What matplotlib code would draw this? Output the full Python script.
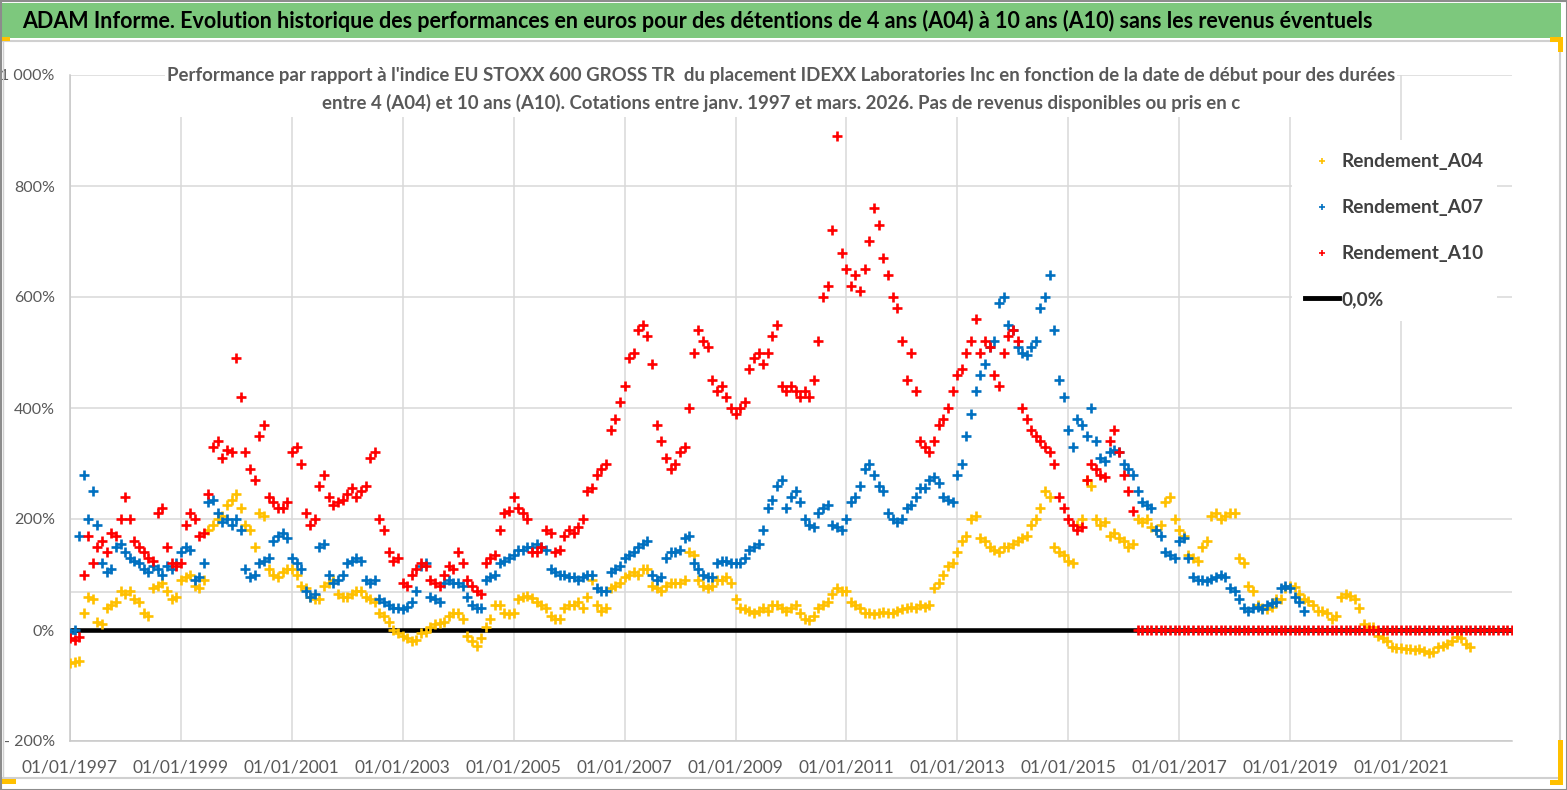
import numpy as np
import pandas as pd
import matplotlib
matplotlib.use('Agg')
import matplotlib.pyplot as plt
import matplotlib.dates as mdates
from matplotlib.lines import Line2D
from matplotlib.patches import Rectangle
from matplotlib.ticker import FixedLocator, FixedFormatter

# ---------------- data (monthly readings, % vs index) ----------------
a04 = [
    -60, -58, -55, 30, 60, 55, 15, 10, 40, 45, 50, 70,          # 1997
    65, 70, 55, 50, 30, 25, 75, 80, 85, 70, 55, 60,             # 1998
    90, 95, 100, 80, 75, 90, 180, 190, 200, 205, 225, 235,      # 1999
    245, 220, 190, 180, 150, 210, 205, 110, 100, 95, 105, 110,  # 2000
    110, 100, 80, 75, 60, 55, 55, 80, 85, 90, 65, 60,           # 2001
    60, 65, 70, 70, 60, 55, 50, 30, 25, 15, 0, -5,              # 2002
    -10, -15, -20, -18, -5, -3, 5, 10, 12, 15, 25, 30,          # 2003
    30, 20, -10, -20, -28, -15, 5, 20, 45, 45, 30, 28,          # 2004
    30, 55, 60, 62, 58, 50, 45, 40, 25, 20, 20, 40,             # 2005
    45, 45, 50, 40, 60, 90, 45, 35, 40, 75, 80, 85,             # 2006
    95, 100, 105, 100, 110, 110, 80, 75, 70, 80, 85, 85,        # 2007
    85, 90, 140, 135, 90, 80, 75, 80, 90, 90, 95, 85,           # 2008
    55, 40, 38, 35, 30, 35, 40, 35, 45, 45, 40, 35,             # 2009
    40, 45, 30, 20, 18, 25, 40, 45, 50, 65, 75, 70,             # 2010
    70, 50, 45, 40, 30, 30, 28, 30, 32, 30, 30, 35,             # 2011
    38, 40, 42, 40, 45, 42, 45, 75, 85, 100, 115, 120,          # 2012
    140, 160, 170, 200, 205, 165, 160, 150, 145, 140, 150, 150, # 2013
    155, 160, 165, 170, 190, 200, 220, 250, 240, 150, 140, 135, # 2014
    125, 120, 190, 200, 270, 260, 200, 190, 195, 170, 175, 165, # 2015
    160, 150, 155, 200, 195, 200, 185, 180, 190, 230, 240, 200, # 2016
    180, 170, 135, 130, 125, 150, 160, 205, 210, 200, 205, 210, # 2017
    210, 130, 120, 80, 70, 45, 40, 38, 42, 55, 55, 75,          # 2018
    80, 78, 65, 55, 52, 45, 35, 35, 30, 20, 25, 60,             # 2019
    65, 62, 55, 40, 10, 5, 5, -10, -15, -20, -30, -32,          # 2020
    -33, -35, -34, -36, -35, -38, -42, -40, -30, -28, -25, -20, # 2021
    -12, -15, -25, -30,                                         # 2022
]
a07 = [
    -5, 0, 170, 280, 200, 250, 190, 120, 105, 110, 150, 155,    # 1997
    140, 130, 125, 120, 110, 105, 115, 110, 100, 115, 110, 120, # 1998
    140, 150, 145, 90, 95, 120, 230, 235, 210, 195, 200, 190,   # 1999
    200, 180, 110, 95, 100, 120, 125, 130, 160, 170, 175, 165,  # 2000
    130, 120, 110, 70, 60, 65, 150, 155, 100, 85, 90, 100,      # 2001
    120, 125, 130, 125, 90, 85, 90, 55, 50, 45, 40, 40,         # 2002
    38, 42, 50, 70, 115, 120, 60, 55, 50, 85, 90, 85,           # 2003
    85, 80, 60, 45, 40, 40, 90, 95, 100, 120, 125, 130,         # 2004
    135, 145, 145, 150, 150, 155, 150, 145, 110, 105, 100, 100, # 2005
    95, 95, 90, 95, 100, 100, 75, 70, 70, 105, 110, 115,        # 2006
    130, 135, 140, 150, 155, 160, 100, 90, 95, 130, 140, 140,   # 2007
    145, 165, 170, 120, 110, 100, 95, 95, 120, 125, 125, 120,   # 2008
    120, 120, 130, 145, 150, 155, 180, 220, 235, 260, 270, 220, # 2009
    240, 250, 230, 200, 190, 185, 210, 220, 225, 190, 185, 180, # 2010
    200, 230, 240, 260, 290, 300, 280, 260, 250, 210, 200, 195, # 2011
    200, 220, 225, 240, 255, 255, 270, 275, 265, 240, 235, 230, # 2012
    280, 300, 350, 390, 430, 460, 480, 510, 520, 590, 600, 550, # 2013
    540, 510, 500, 495, 510, 520, 580, 600, 640, 540, 450, 420, # 2014
    360, 330, 380, 370, 350, 400, 340, 310, 305, 320, 325, 320, # 2015
    300, 290, 280, 250, 230, 225, 220, 180, 170, 140, 135, 130, # 2016
    160, 165, 130, 95, 90, 90, 88, 92, 95, 100, 95, 75,         # 2017
    70, 55, 40, 35, 40, 42, 38, 45, 48, 50, 75, 80,             # 2018
    75, 60, 50, 35,                                             # 2019
]
a10 = [
    -15, -18, -12, 100, 170, 120, 150, 160, 140, 175, 170, 200, # 1997
    240, 200, 160, 150, 140, 130, 125, 210, 220, 150, 120, 115, # 1998
    120, 190, 210, 200, 170, 175, 245, 330, 340, 310, 325, 320, # 1999
    490, 420, 320, 290, 270, 350, 370, 240, 230, 220, 220, 230, # 2000
    320, 330, 300, 210, 190, 200, 260, 280, 240, 225, 230, 235, # 2001
    245, 255, 240, 250, 260, 310, 320, 200, 180, 140, 125, 130, # 2002
    85, 80, 100, 110, 120, 115, 90, 85, 80, 100, 115, 110,      # 2003
    140, 120, 90, 80, 70, 65, 120, 130, 135, 180, 210, 215,     # 2004
    240, 220, 210, 200, 140, 140, 150, 180, 175, 140, 145, 170, # 2005
    180, 175, 185, 200, 250, 255, 280, 290, 300, 360, 380, 410, # 2006
    440, 490, 500, 540, 550, 530, 480, 370, 340, 310, 290, 300, # 2007
    320, 330, 400, 500, 540, 520, 510, 450, 430, 440, 420, 400, # 2008
    390, 400, 410, 470, 490, 500, 480, 500, 530, 550, 440, 430, # 2009
    440, 430, 420, 430, 420, 450, 520, 600, 620, 720, 890, 680, # 2010
    650, 620, 640, 610, 650, 700, 760, 730, 670, 640, 600, 580, # 2011
    520, 450, 500, 430, 340, 330, 320, 340, 370, 380, 400, 430, # 2012
    460, 470, 500, 520, 560, 500, 520, 510, 460, 440, 500, 530, # 2013
    540, 520, 400, 380, 360, 350, 340, 330, 320, 300, 240, 220, # 2014
    200, 190, 180, 185, 270, 300, 290, 280, 275, 340, 360, 320, # 2015
    280, 250, 215, 0, 0, 0, 0, 0, 0, 0, 0, 0,                   # 2016
    0, 0, 0, 0, 0, 0, 0, 0, 0, 0, 0, 0,                         # 2017
    0, 0, 0, 0, 0, 0, 0, 0, 0, 0, 0, 0,                         # 2018
    0, 0, 0, 0, 0, 0, 0, 0, 0, 0, 0, 0,                         # 2019
    0, 0, 0, 0, 0, 0, 0, 0, 0, 0, 0, 0,                         # 2020
    0, 0, 0, 0, 0, 0, 0, 0, 0, 0, 0, 0,                         # 2021
    0, 0, 0, 0, 0, 0, 0, 0, 0, 0, 0, 0,                         # 2022
    0,                                                          # 2023
]
series_names = ['Rendement_A04', 'Rendement_A07', 'Rendement_A10']
series_colors = ['#FFC000', '#0070C0', '#FF0000']
zero_label = '0,0%'
y_ticks = [-200, 0, 200, 400, 600, 800, 1000]
y_tick_labels = ['- 200%', '0%', '200%', '400%', '600%', '800%', '1 000%']
x_tick_years = list(range(1997, 2022, 2))
extra_grid_value = 68

title_text = ("ADAM Informe. Evolution historique des performances en euros pour des "
              "détentions de 4 ans (A04) à 10 ans (A10) sans les revenus éventuels")
sub_line1 = ("Performance par rapport à l'indice EU STOXX 600 GROSS TR  du placement IDEXX "
             "Laboratories Inc en fonction de la date de début pour des durées")
sub_line2 = ("entre 4 (A04) et 10 ans (A10). Cotations entre janv. 1997 et mars. 2026. "
             "Pas de revenus disponibles ou pris en c")

# ---------------- figure ----------------
W, H = 1567, 790
fig = plt.figure(figsize=(W / 100, H / 100), dpi=100)
fig.patch.set_facecolor('white')

FONT = ['Lato', 'DejaVu Sans']
NARROW = ['Liberation Sans Narrow', 'Lato', 'DejaVu Sans']

def px_rect(x0, y0, x1, y1, color, z=1, fill=True, lw=0):
    r = Rectangle((x0 / W, 1 - y1 / H), (x1 - x0) / W, (y1 - y0) / H,
                  transform=fig.transFigure, facecolor=color if fill else 'none',
                  edgecolor=color if not fill else 'none', lw=lw, zorder=z)
    fig.add_artist(r)
    return r

def px_line(x0, y0, x1, y1, color, lw=1, z=1):
    fig.add_artist(Line2D([x0 / W, x1 / W], [1 - y0 / H, 1 - y1 / H],
                          transform=fig.transFigure, color=color, lw=lw, zorder=z))

ax = fig.add_axes([70 / W, 1 - 741 / H, (1512 - 70) / W, (741 - 75) / H])
ax.set_facecolor('white')

d04 = pd.date_range('1997-01-01', periods=len(a04), freq='MS')
d07 = pd.date_range('1997-01-01', periods=len(a07), freq='MS')
d10 = pd.date_range('1997-01-01', periods=len(a10), freq='MS')

ax.axhline(0, color='black', lw=3.3, zorder=2)
for d, v, c, z in zip([d04, d07, d10], [a04, a07, a10], series_colors, [3, 4, 5]):
    ax.plot(d, v, ls='none', marker='+', ms=7.2, mew=1.9, color=c, zorder=z)

ax.set_xlim(pd.Timestamp('1997-01-01'), pd.Timestamp('2023-01-01'))
ax.set_ylim(-200, 1000)
ax.yaxis.set_major_locator(FixedLocator(y_ticks))
ax.yaxis.set_major_formatter(FixedFormatter(y_tick_labels))
ax.set_xticks([pd.Timestamp(f'{y}-01-01') for y in x_tick_years])
ax.xaxis.set_major_formatter(mdates.DateFormatter('%d/%m/%Y'))

ax.grid(True, color='#d9d9d9', lw=1.1, zorder=0)
ax.axhline(extra_grid_value, color='#d9d9d9', lw=1.1, zorder=0.5)
ax.set_axisbelow(True)
for s in ['top', 'right']:
    ax.spines[s].set_visible(False)
for s in ['left', 'bottom']:
    ax.spines[s].set_color('#c8c8c8')
    ax.spines[s].set_linewidth(1.1)
ax.tick_params(axis='both', length=0, colors='#595959')
ax.tick_params(axis='y', pad=11, labelsize=11.5)
ax.tick_params(axis='x', pad=13, labelsize=12.5)
for lab in ax.get_xticklabels() + ax.get_yticklabels():
    lab.set_family(NARROW)

# legend
handles = [Line2D([], [], ls='none', marker='+', color=c, ms=4.5, mew=1.2) for c in series_colors]
handles.append(Line2D([], [], color='black', lw=3.5))
leg = ax.legend(handles, series_names + [zero_label], loc='upper left',
                bbox_to_anchor=(1292 / W, 1 - 140 / H), bbox_transform=fig.transFigure,
                borderaxespad=0, frameon=True, facecolor='white', edgecolor='none',
                framealpha=1, fancybox=False, borderpad=0.7, labelspacing=1.52,
                handlelength=1.75, handletextpad=0.15,
                prop=dict(family=FONT, weight='bold', size=13.7))
for t in leg.get_texts():
    t.set_color('#404040')
leg.set_zorder(10)

# subtitle box (covers gridlines)
px_rect(165, 58, 1397, 117, 'white', z=3)
fig.text(781 / W, 1 - 75 / H, sub_line1, ha='center', va='center', color='#595959',
         fontsize=13.4, fontweight='bold', family=FONT, zorder=4)
fig.text(781 / W, 1 - 103 / H, sub_line2, ha='center', va='center', color='#595959',
         fontsize=13.4, fontweight='bold', family=FONT, zorder=4)

# title band
px_rect(2, 3, 1561, 38, '#7dc87d', z=3)
fig.text(22 / W, 1 - 21 / H, title_text, ha='left', va='center', color='black',
         fontsize=15.5, fontweight='bold', family=FONT, zorder=4)

# frame lines
px_line(2, 40.5, 1560, 40.5, '#d0d0d0', lw=1.5, z=3)
px_line(1560, 40, 1560, 778, '#d0d0d0', lw=1.5, z=3)
px_line(2, 778, 1560, 778, '#d0d0d0', lw=1.5, z=3)
px_line(2.5, 40, 2.5, 778, '#d0d0d0', lw=1.0, z=3)
px_rect(0.5, 0.5, W - 0.5, H - 0.5, '#8c8c8c', z=6, fill=False, lw=1.5)

# yellow corner marks
yel = '#FFC000'
px_rect(0, 37, 10, 41, yel, z=5)
px_rect(0, 779, 16, 784, yel, z=5)
px_rect(1550, 37, 1563, 42, yel, z=5)
px_rect(1558, 37, 1563, 52, yel, z=5)
px_rect(1558, 740, 1563, 785, yel, z=5)
px_rect(1550, 780, 1563, 785, yel, z=5)

fig.savefig('out.png', dpi=100, facecolor='white')
